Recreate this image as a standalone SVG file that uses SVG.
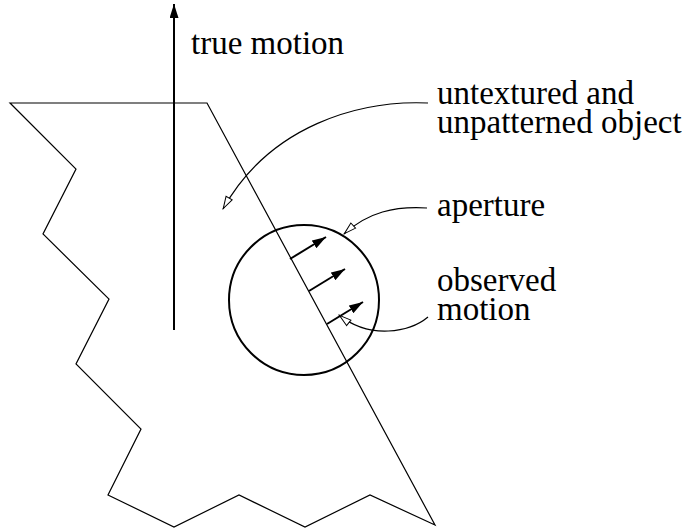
<svg xmlns="http://www.w3.org/2000/svg" width="682" height="529" viewBox="0 0 682 529">
<defs>
  <marker id="solid" markerUnits="userSpaceOnUse" markerWidth="16" markerHeight="10" refX="14" refY="4.5" orient="auto">
    <path d="M0,0 L14,4.5 L0,9 Z" fill="#000"/>
  </marker>
  <marker id="open" markerUnits="userSpaceOnUse" markerWidth="16" markerHeight="10" refX="13.5" refY="4.5" orient="auto">
    <path d="M1,1 L13,4.5 L1,8 Z" fill="#fff" stroke="#000" stroke-width="1"/>
  </marker>
</defs>
<rect width="682" height="529" fill="#fff"/>

<g id="object" fill="none" stroke="#000" stroke-width="1.2">
  <polygon points="10,103 207,103 435,525 370,495 305,527 239,495 174,527 108,495 141,429 76,364 109,299 43,234 76,169"/>
</g>

<g id="aperture" fill="none" stroke="#000" stroke-width="2">
  <circle cx="304" cy="300" r="75"/>
</g>

<g id="label-true-motion">
  <text x="191" y="54" font-family="Times New Roman, Liberation Serif, serif" font-size="33">true motion</text>
</g>
<g id="label-object">
  <text x="437" y="104" font-family="Times New Roman, Liberation Serif, serif" font-size="33">untextured and</text>
  <text x="437" y="133" font-family="Times New Roman, Liberation Serif, serif" font-size="33">unpatterned object</text>
</g>
<g id="label-aperture">
  <text x="437" y="216" font-family="Times New Roman, Liberation Serif, serif" font-size="33">aperture</text>
</g>
<g id="label-observed">
  <text x="437" y="291" font-family="Times New Roman, Liberation Serif, serif" font-size="33">observed</text>
  <text x="437" y="320" font-family="Times New Roman, Liberation Serif, serif" font-size="33">motion</text>
</g>

<g id="connectors" fill="none" stroke="#000">
  <g stroke-width="2" marker-end="url(#solid)">
    <line x1="174" y1="330" x2="174" y2="4"/>
    <line x1="290" y1="259" x2="326" y2="237"/>
    <line x1="309" y1="291" x2="345" y2="269"/>
    <line x1="327" y1="324" x2="363" y2="302"/>
  </g>
  <g stroke-width="1.2" marker-end="url(#open)">
    <path d="M428,103 C360,100 270,125 223,209"/>
    <path d="M427,208 C395,206 368,212 344,234"/>
    <path d="M428,317 C410,332 370,340 339,315"/>
  </g>
</g>
</svg>
